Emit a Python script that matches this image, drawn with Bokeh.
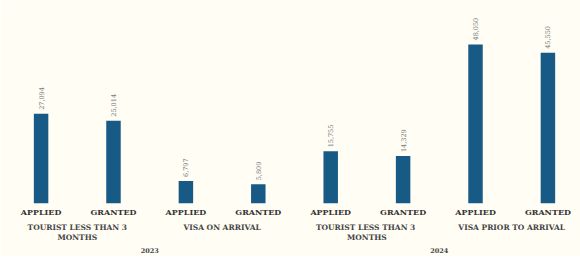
import math
from bokeh.plotting import figure
from bokeh.models import ColumnDataSource, FactorRange, Range1d
from bokeh.core.properties import value
from bokeh.embed import file_html
from bokeh.resources import INLINE

years = ["2023", "2023", "2023", "2023", "2024", "2024", "2024", "2024"]
types = ["TOURIST LESS THAN 3\nMONTHS", "TOURIST LESS THAN 3\nMONTHS",
         "VISA ON ARRIVAL", "VISA ON ARRIVAL",
         "TOURIST LESS THAN 3 \nMONTHS", "TOURIST LESS THAN 3 \nMONTHS",
         "VISA PRIOR TO ARRIVAL", "VISA PRIOR TO ARRIVAL"]
statuses = ["APPLIED", "GRANTED"] * 4
counts = [27094, 25014, 6797, 5809, 15755, 14329, 48050, 45550]

x = list(zip(years, types, statuses))
labels = [f"{v:,}" for v in counts]
src = ColumnDataSource(data=dict(x=x, counts=counts, labels=labels))

BG = "#FFFDF4"
FONT = "DejaVu Serif"

p = figure(x_range=FactorRange(*x, factor_padding=0, subgroup_padding=0, group_padding=0,
                               range_padding=-0.0125),
           y_range=Range1d(0, 61350), width=580, height=256,
           output_backend="svg", toolbar_location=None, min_border=0,
           min_border_left=8, min_border_right=0, min_border_top=0, min_border_bottom=0)
p.background_fill_color = BG
p.border_fill_color = BG
p.outline_line_color = None
p.xgrid.grid_line_color = None
p.ygrid.grid_line_color = None
p.yaxis.visible = False

p.vbar(x="x", top="counts", width=0.2, source=src, color="#185A86", line_color=None)
p.text(x="x", y="counts", text="labels", source=src, angle=math.pi / 2,
       text_align="left", text_baseline="middle", y_offset=-4,
       text_font=value(FONT), text_font_size="6.5px", text_color="#7a7a7a")

ax = p.xaxis[0]
ax.axis_line_color = None
ax.major_tick_line_color = None
ax.minor_tick_line_color = None
ax.major_tick_out = 0
ax.major_tick_in = 0
ax.separator_line_alpha = 0
ax.major_label_orientation = "horizontal"
ax.major_label_text_font = FONT
ax.major_label_text_font_size = "8px"
ax.major_label_text_font_style = "bold"
ax.major_label_text_color = "#333333"
ax.major_label_standoff = 3
ax.subgroup_text_font = FONT
ax.subgroup_text_font_size = "7.5px"
ax.subgroup_text_font_style = "bold"
ax.subgroup_text_color = "#444444"
ax.group_text_font = FONT
ax.group_text_font_size = "6.5px"
ax.group_text_font_style = "bold"
ax.group_text_color = "#444444"

open("out.html", "w").write(file_html(p, INLINE))
